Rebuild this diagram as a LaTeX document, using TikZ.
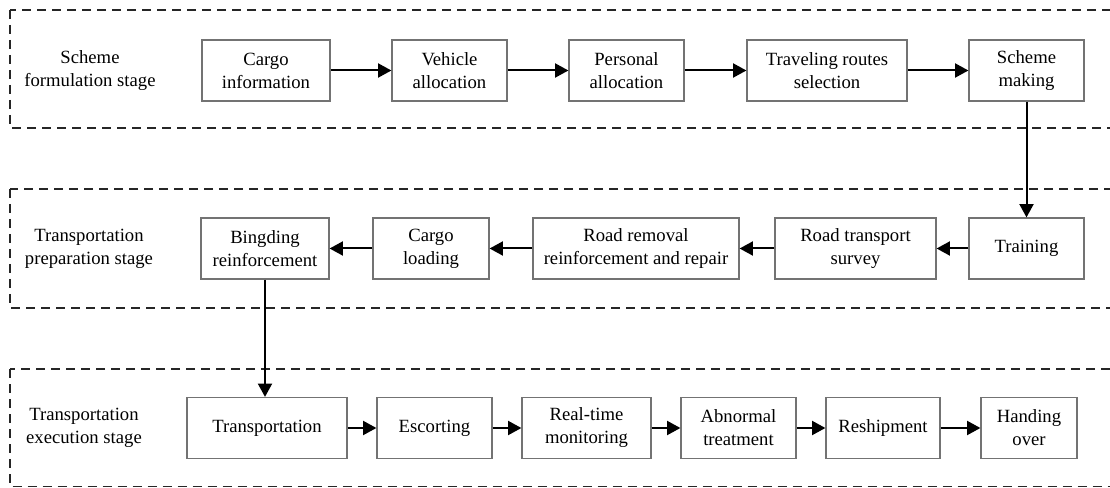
\documentclass[tikz,border=0pt]{standalone}
\usepackage{fontspec}
\setmainfont{Liberation Serif}
\usetikzlibrary{arrows.meta}

\tikzset{every picture/.style={line width=0.75pt}}
\tikzset{
	stagebox/.style={draw=black!85, line width=1pt, dash pattern=on 6.75pt off 4.5pt},
	blk/.style={draw=black!55, line width=0.9pt, align=center, inner sep=0pt, minimum height=45.75pt, font=\fontsize{14}{17.25}\selectfont},
	stagelbl/.style={align=center, font=\fontsize{14}{17.25}\selectfont},
	flow/.style={line width=1.5pt, -{Triangle[length=10pt,width=10.5pt]}}}

\begin{document}
\begin{tikzpicture}[x=0.75pt,y=0.75pt,yscale=-1,xscale=1]
	\useasboundingbox (0,0) rectangle (1110,488);
	\clip (0,0) rectangle (1110,488);

	%Stage frames
	\draw [stagebox] (10,10) rectangle (1125,128) ;
	\draw [stagebox] (10,189) rectangle (1125,308) ;
	\draw [stagebox] (10,369) rectangle (1125,486.5) ;

	% Text Node
	\draw (90,71) node [stagelbl] (form) {Scheme\\formulation stage};
	% Text Node
	\draw (89,248.5) node [stagelbl] (prep) {Transportation\\preparation stage};
	% Text Node
	\draw (84,428) node [stagelbl] (exec) {Transportation\\execution stage};

	%Scheme formulation stage
	\draw (266,70.5) node [blk, minimum width=96pt] (cargo) {Cargo\\information};
	\draw (449.5,70.5) node [blk, minimum width=86.25pt] (vehicle) {Vehicle\\allocation};
	\draw (626.5,70.5) node [blk, minimum width=86.25pt] (personal) {Personal\\allocation};
	\draw (827,70.5) node [blk, minimum width=120pt] (routes) {Traveling routes\\selection};
	\draw (1026.5,70.5) node [blk, minimum width=86.25pt] (scheme) {Scheme\\making};

	%Transportation preparation stage
	\draw (265,248.5) node [blk, minimum width=96pt] (bind) {Bingding\\reinforcement};
	\draw (431,248.5) node [blk, minimum width=87pt] (loading) {Cargo\\loading};
	\draw (636,248.5) node [blk, minimum width=154.5pt] (removal) {Road removal\\reinforcement and repair};
	\draw (855.5,248.5) node [blk, minimum width=120.75pt] (survey) {Road transport\\survey};
	\draw (1026.5,248.5) node [blk, minimum width=86.25pt] (training) {Training};

	%Transportation execution stage
	\draw (267,428) node [blk, minimum width=120pt] (transp) {Transportation};
	\draw (434.5,428) node [blk, minimum width=86.25pt] (escort) {Escorting};
	\draw (586.5,428) node [blk, minimum width=96.75pt] (monitor) {Real-time\\monitoring};
	\draw (738.5,428) node [blk, minimum width=86.25pt] (abnormal) {Abnormal\\treatment};
	\draw (883,428) node [blk, minimum width=85.5pt] (reship) {Reshipment};
	\draw (1029,428) node [blk, minimum width=72pt] (handover) {Handing\\over};

	%Straight Lines
	\draw [flow] (cargo) -- (vehicle) ;
	\draw [flow] (vehicle) -- (personal) ;
	\draw [flow] (personal) -- (routes) ;
	\draw [flow] (routes) -- (scheme) ;
	\draw [flow] (scheme) -- (training) ;
	\draw [flow] (training) -- (survey) ;
	\draw [flow] (survey) -- (removal) ;
	\draw [flow] (removal) -- (loading) ;
	\draw [flow] (loading) -- (bind) ;
	\draw [flow] (bind.south) -- (bind.south |- transp.north) ;
	\draw [flow] (transp) -- (escort) ;
	\draw [flow] (escort) -- (monitor) ;
	\draw [flow] (monitor) -- (abnormal) ;
	\draw [flow] (abnormal) -- (reship) ;
	\draw [flow] (reship) -- (handover) ;

\end{tikzpicture}
\end{document}
